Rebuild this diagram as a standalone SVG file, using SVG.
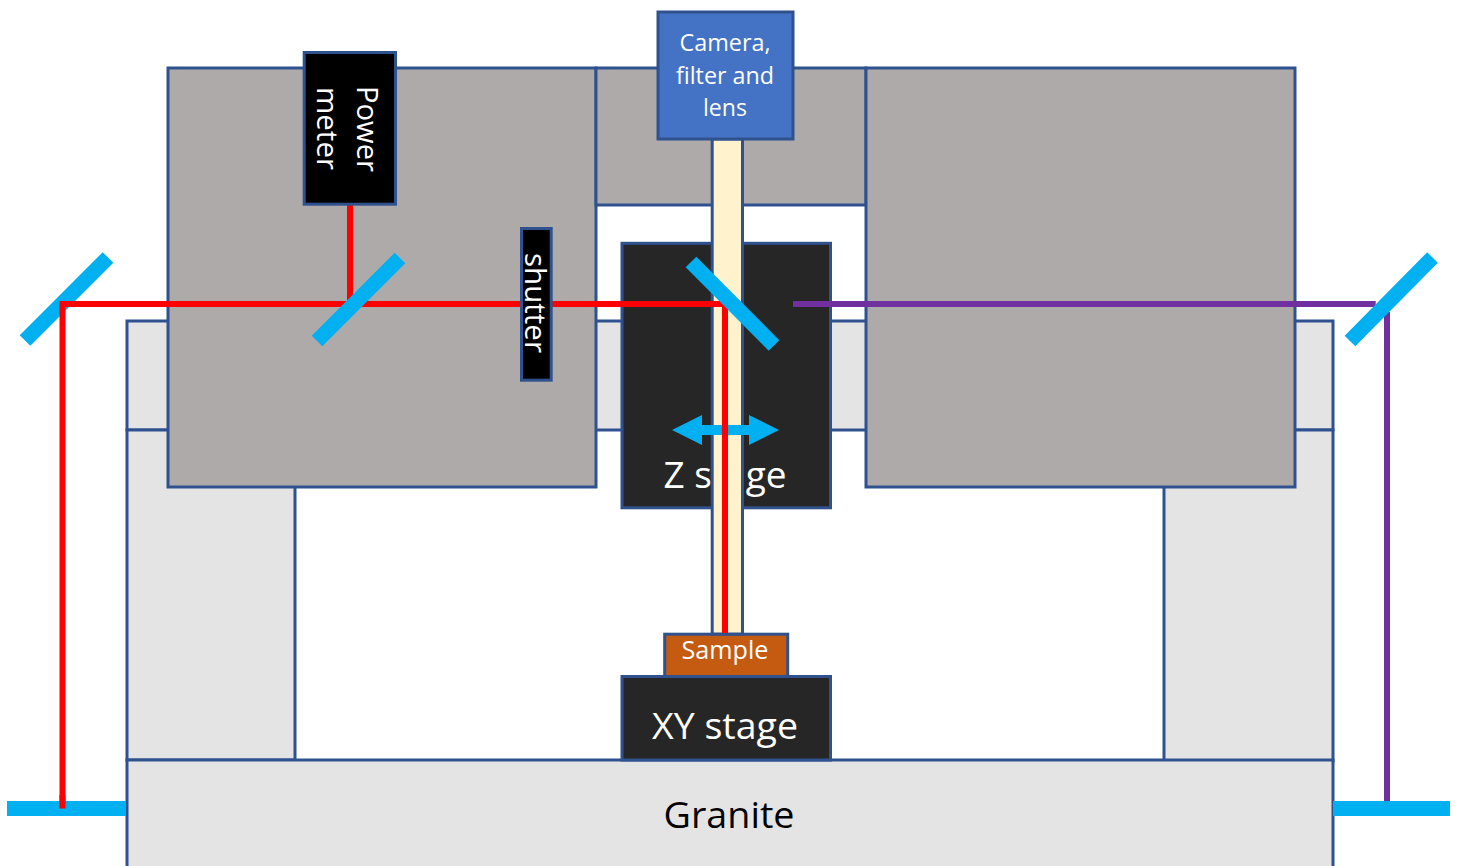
<svg xmlns="http://www.w3.org/2000/svg" width="1461" height="866" viewBox="0 0 1461 866">
<style>
.b{stroke:#2f528f;stroke-width:3}
.lg{fill:#e4e4e4}
.dg{fill:#aeaaaa}
.k{fill:#262626}
.bk{fill:#000}
.t{font-family:"Open Sans","Noto Sans",sans-serif;fill:#fff;text-anchor:middle}
.m{stroke:#00b0f0;stroke-width:15;fill:none}
.r{stroke:#f00;stroke-width:6;fill:none}
.p{stroke:#7030a0;stroke-width:6;fill:none}
</style>
<rect width="1461" height="866" fill="#fff"/>
<g id="frame">
<rect class="b lg" x="127" y="321" width="1206" height="109"/>
<rect class="b lg" x="127" y="430" width="168" height="330"/>
<rect class="b lg" x="1164" y="430" width="169" height="331"/>
</g>
<g id="granite">
<rect class="b lg" x="127" y="760" width="1206" height="110"/>
<text class="t" style="fill:#000" x="729" y="828" font-size="36" textLength="131" lengthAdjust="spacingAndGlyphs">Granite</text>
</g>
<g id="enclosure">
<rect class="b dg" x="168" y="68" width="428" height="419"/>
<rect class="b dg" x="596" y="68" width="270" height="137"/>
<rect class="b dg" x="866" y="68" width="429" height="419"/>
</g>
<g id="z-stage">
<rect class="b k" x="622" y="243.3" width="208.5" height="264.5"/>
<text class="t" x="725" y="488" font-size="36" textLength="123" lengthAdjust="spacingAndGlyphs">Z stage</text>
</g>
<g id="xy-stage">
<rect class="b k" x="622" y="676.5" width="208.5" height="83.5"/>
<text class="t" x="725" y="739" font-size="36" textLength="146" lengthAdjust="spacingAndGlyphs">XY stage</text>
</g>
<g id="sample">
<rect class="b" fill="#c55a11" x="664.7" y="634.2" width="123" height="42.3"/>
<text class="t" x="725" y="659" font-size="25" textLength="87" lengthAdjust="spacingAndGlyphs">Sample</text>
</g>
<g id="beam">
<rect class="b" fill="#fff2cc" x="712.2" y="139" width="30.3" height="495"/>
</g>
<g id="camera">
<rect class="b" fill="#4472c4" x="658" y="12" width="135" height="127"/>
<text class="t" font-size="23.5"><tspan x="725" y="51" textLength="91" lengthAdjust="spacingAndGlyphs">Camera,</tspan><tspan x="725" y="84" textLength="98" lengthAdjust="spacingAndGlyphs">filter and</tspan><tspan x="725" y="116" textLength="44" lengthAdjust="spacingAndGlyphs">lens</tspan></text>
</g>
<g id="connectors">
<path class="p" d="M793 304H1375.7M1387 312V802"/>
<path class="m" d="M25 340.5L108 257.5"/>
<path class="r" d="M62.5 808.5V304H725V633M350 205V304"/>
<path class="m" d="M691 262L774 345.5M317 341L400 258M1350 341L1432.5 257.5"/>
<path class="m" d="M7 808.5H126M1333 808.5H1450"/>
<path class="r" d="M62.5 795V808.5"/>
<path fill="#00b0f0" d="M672 430L702 415V425H749V415L779 430L749 445V435H702V445Z"/>
<path class="r" d="M725 420V633"/>
</g>
<g id="power-meter">
<rect class="b bk" x="304.2" y="52.5" width="91.3" height="151.7"/>
<text class="t" font-size="30" transform="rotate(90 350 128)"><tspan x="351" y="121" textLength="86" lengthAdjust="spacingAndGlyphs">Power</tspan><tspan x="350.5" y="161" textLength="83" lengthAdjust="spacingAndGlyphs">meter</tspan></text>
</g>
<g id="shutter">
<rect class="b bk" x="521.5" y="228.5" width="29.7" height="151.7"/>
<text class="t" font-size="30" transform="rotate(90 536 304)" x="535" y="315" textLength="100" lengthAdjust="spacingAndGlyphs">shutter</text>
</g>
</svg>
